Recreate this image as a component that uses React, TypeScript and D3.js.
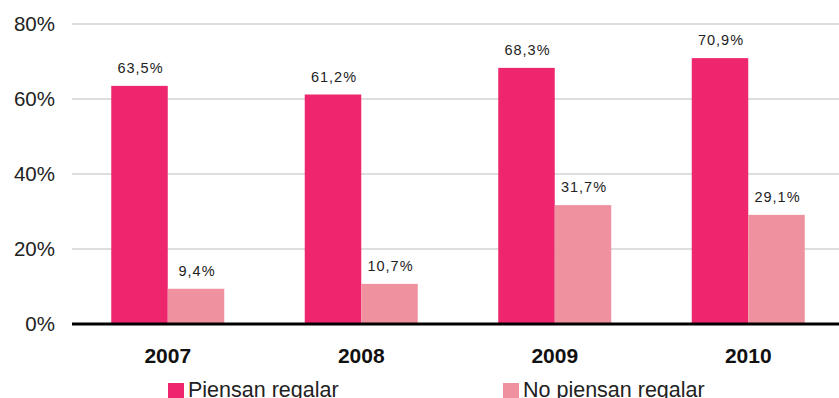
import React from "react";
import * as d3 from "d3";

const years = ["2007", "2008", "2009", "2010"];
const piensan = [63.5, 61.2, 68.3, 70.9];
const noPiensan = [9.4, 10.7, 31.7, 29.1];
const yTicks = [0, 20, 40, 60, 80];
const seriesNames = ["Piensan regalar", "No piensan regalar"];
const colors = ["#EE266D", "#F0919F"];

const W = 839;
const H = 398;

export default function App() {
  const x = d3.scaleBand<string>().domain(years).range([71, 845]).paddingInner(0).paddingOuter(0);
  const y = d3.scaleLinear().domain([0, 80]).range([324, 24]);
  const bw = 56.5;
  const fmt = (v: number) => v.toFixed(1).replace(".", ",") + "%";
  const series = [piensan, noPiensan];

  return (
    <svg width={W} height={H} style={{ position: "absolute", left: 0, top: 0, display: "block" }}
      fontFamily="'Liberation Sans', Arial, sans-serif">
      <rect width={W} height={H} fill="#fff" />
      {yTicks.map((t) => (
        <g key={t}>
          {t > 0 && <line x1={72} x2={W} y1={y(t)} y2={y(t)} stroke="#DEDEDE" strokeWidth={2} />}
          <text x={55} y={y(t)} dy="0.36em" textAnchor="end" fontSize={20.5} fill="#222">{t}%</text>
        </g>
      ))}
      {years.map((yr, i) => {
        const c = (x(yr) as number) + x.bandwidth() / 2;
        return (
          <g key={yr}>
            {series.map((s, k) => {
              const x0 = k === 0 ? c - bw : c;
              return (
                <g key={k}>
                  <rect x={x0} y={y(s[i])} width={bw} height={y(0) - y(s[i])} fill={colors[k]} />
                  <text x={x0 + bw / 2 + 1} y={y(s[i]) - 13} textAnchor="middle" fontSize={14.5}
                    letterSpacing={1} fill="#222">{fmt(s[i])}</text>
                </g>
              );
            })}
            <text x={c} y={363} textAnchor="middle" fontSize={21} fontWeight="bold" fill="#111">{yr}</text>
          </g>
        );
      })}
      <line x1={72} x2={W} y1={y(0)} y2={y(0)} stroke="#000" strokeWidth={3} />
      {seriesNames.map((n, k) => {
        const lx = k === 0 ? 168 : 503;
        return (
          <g key={n}>
            <rect x={lx} y={383} width={16} height={15} fill={colors[k]} />
            <text x={lx + 20} y={397} fontSize={21.5} fill="#222">{n}</text>
          </g>
        );
      })}
    </svg>
  );
}
